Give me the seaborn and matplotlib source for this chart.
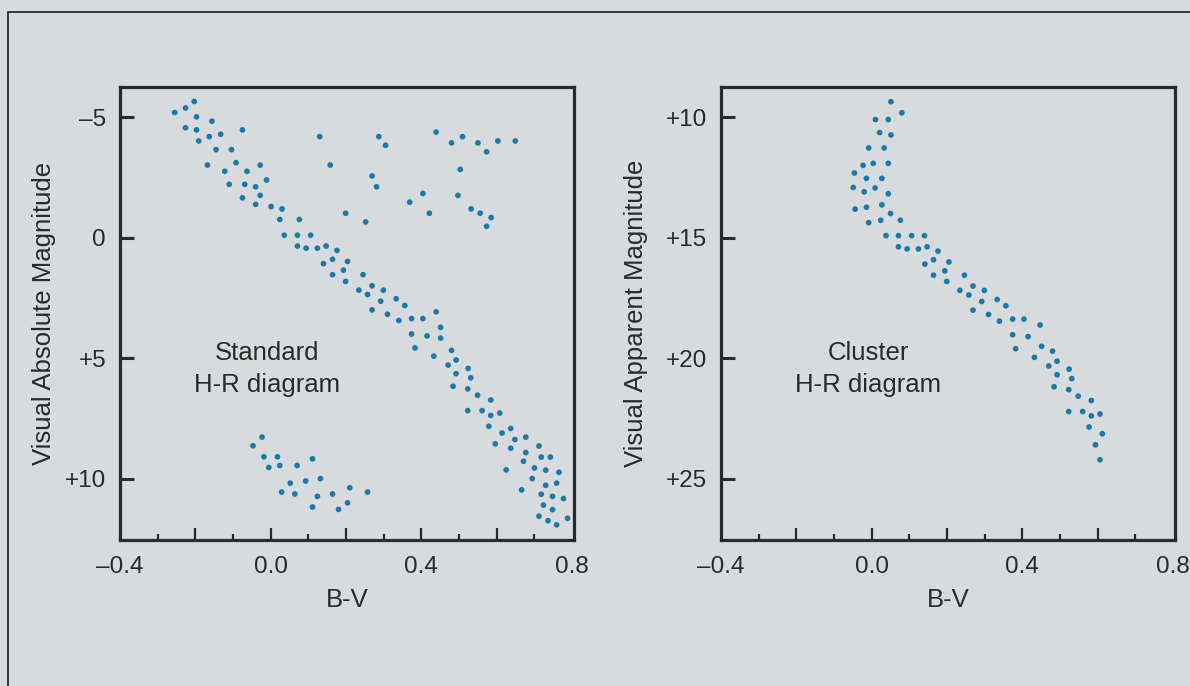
import numpy as np
import pandas as pd
import seaborn as sns
import matplotlib.pyplot as plt
from matplotlib.lines import Line2D
from matplotlib.ticker import FixedLocator

# ---- Standard H-R diagram (B-V, absolute magnitude) ----
ms_bv = [-0.255, -0.226, -0.203, -0.197, -0.156, -0.226, -0.197, -0.075, -0.163, -0.133,
         -0.191, -0.145, -0.104, -0.168, -0.092, -0.028, -0.122, -0.063, -0.011, -0.110,
         -0.069, -0.040, -0.075, -0.028, -0.040, 0.001, 0.030, 0.024, 0.076, 0.036,
         0.071, 0.106, 0.071, 0.094, 0.124, 0.147, 0.176, 0.140, 0.164, 0.204,
         0.164, 0.193, 0.245, 0.199, 0.234, 0.257, 0.269, 0.299, 0.292, 0.333,
         0.356, 0.269, 0.310, 0.340, 0.374, 0.404, 0.439, 0.451, 0.374, 0.415,
         0.451, 0.383, 0.433, 0.480, 0.492, 0.471, 0.524, 0.492, 0.531, 0.484,
         0.523, 0.549, 0.584, 0.523, 0.561, 0.584, 0.608, 0.579, 0.614, 0.637,
         0.648, 0.596, 0.637, 0.677, 0.677, 0.712, 0.718, 0.742, 0.671, 0.700,
         0.730, 0.765, 0.625, 0.694, 0.730, 0.759, 0.666, 0.718, 0.748, 0.777,
         0.724, 0.748, 0.712, 0.736, 0.759, 0.788]
ms_mv = [-5.19, -5.38, -5.65, -5.01, -4.83, -4.56, -4.47, -4.47, -4.19, -4.29,
         -4.01, -3.65, -3.65, -3.01, -3.11, -3.01, -2.75, -2.75, -2.39, -2.21,
         -2.21, -2.11, -1.65, -1.75, -1.38, -1.29, -1.19, -0.75, -0.75, -0.10,
         -0.10, -0.10, 0.35, 0.44, 0.44, 0.35, 0.53, 1.08, 0.90, 0.99,
         1.54, 1.35, 1.54, 1.82, 2.18, 2.36, 2.00, 2.18, 2.64, 2.54,
         2.82, 3.00, 3.18, 3.44, 3.36, 3.36, 3.08, 3.72, 4.00, 4.08,
         4.17, 4.58, 4.92, 4.68, 5.08, 5.29, 5.43, 5.65, 5.82, 6.17,
         6.28, 6.54, 6.74, 7.18, 7.18, 7.38, 7.28, 7.83, 8.11, 7.92,
         8.38, 8.56, 8.74, 8.28, 8.92, 8.65, 9.11, 9.11, 9.28, 9.56,
         9.65, 9.74, 9.64, 10.00, 10.28, 10.19, 10.47, 10.65, 10.74, 10.83,
         11.10, 11.29, 11.56, 11.75, 11.92, 11.65]

giant_bv = [0.130, 0.158, 0.199, 0.252, 0.287, 0.305, 0.269, 0.281, 0.369, 0.404,
            0.421, 0.439, 0.480, 0.509, 0.503, 0.550, 0.573, 0.603, 0.649, 0.497,
            0.532, 0.556, 0.585, 0.573]
giant_mv = [-4.19, -3.01, -1.01, -0.65, -4.19, -3.83, -2.56, -2.11, -1.47, -1.83,
            -1.01, -4.38, -3.93, -4.19, -2.83, -3.93, -3.56, -4.01, -4.01, -1.75,
            -1.19, -1.01, -0.83, -0.47]

wd_bv = [-0.047, -0.023, -0.018, 0.018, -0.005, 0.024, 0.070, 0.111, 0.052, 0.093,
         0.132, 0.029, 0.064, 0.124, 0.164, 0.210, 0.111, 0.180, 0.204, 0.257]
wd_mv = [8.64, 8.28, 9.10, 9.10, 9.54, 9.46, 9.46, 9.18, 10.19, 10.10,
         10.00, 10.56, 10.64, 10.74, 10.64, 10.38, 11.18, 11.28, 11.01, 10.56]

# ---- Cluster H-R diagram (B-V, apparent magnitude) ----
cl_bv = [0.051, 0.080, 0.010, 0.044, 0.021, 0.051, -0.008, 0.033, -0.023, 0.004,
         0.044, -0.046, -0.014, 0.027, -0.049, -0.020, 0.009, 0.044, -0.044, -0.014,
         0.027, -0.008, 0.024, 0.050, 0.076, 0.038, 0.071, 0.106, 0.140, 0.071,
         0.094, 0.124, 0.147, 0.176, 0.141, 0.164, 0.205, 0.164, 0.194, 0.246,
         0.199, 0.234, 0.258, 0.269, 0.299, 0.269, 0.292, 0.333, 0.356, 0.310,
         0.339, 0.374, 0.404, 0.447, 0.374, 0.415, 0.382, 0.451, 0.432, 0.480,
         0.470, 0.492, 0.492, 0.524, 0.531, 0.484, 0.523, 0.548, 0.583, 0.523,
         0.560, 0.583, 0.606, 0.577, 0.612, 0.594, 0.606]
cl_mv = [9.36, 9.82, 10.10, 10.10, 10.64, 10.74, 11.28, 11.28, 12.00, 11.92,
         11.92, 12.32, 12.54, 12.54, 12.92, 13.10, 12.94, 13.18, 13.82, 13.74,
         13.64, 14.38, 14.28, 14.00, 14.28, 14.92, 14.92, 14.92, 14.92, 15.38,
         15.47, 15.47, 15.38, 15.56, 16.10, 15.92, 16.01, 16.56, 16.38, 16.56,
         16.82, 17.19, 17.38, 17.01, 17.19, 18.01, 17.65, 17.57, 17.83, 18.19,
         18.47, 18.38, 18.38, 18.63, 19.03, 19.11, 19.61, 19.51, 19.97, 19.71,
         20.33, 20.13, 20.69, 20.46, 20.85, 21.19, 21.31, 21.58, 21.76, 22.22,
         22.22, 22.40, 22.32, 22.86, 23.14, 23.60, 24.22]

std_ticks = [-5, 0, 5, 10]
std_ticklabels = ["\u20135", "0", "+5", "+10"]
cl_ticks = [10, 15, 20, 25]
cl_ticklabels = ["+10", "+15", "+20", "+25"]
bv_ticks = [-0.4, 0.0, 0.4, 0.8]
bv_ticklabels = ["\u20130.4", "0.0", "0.4", "0.8"]

std_df = pd.DataFrame({"bv": ms_bv + giant_bv + wd_bv, "mv": ms_mv + giant_mv + wd_mv})
cl_df = pd.DataFrame({"bv": cl_bv, "mv": cl_mv})

sns.set_theme(style="white")
plt.rcParams["font.family"] = ["Liberation Sans", "DejaVu Sans"]

page = "#d8dbdd"
ink = "#2a2a2a"
dot = "#1b7aa9"

fig = plt.figure(figsize=(11.9, 6.86), dpi=100, facecolor=page)

def panel(rect, df, ylim, yticks, yticklabels, ylabel, label_x, note, note_y):
    ax = fig.add_axes(rect)
    ax.set_facecolor(page)
    sns.scatterplot(data=df, x="bv", y="mv", ax=ax, color=dot, s=17,
                    edgecolor="none", linewidth=0)
    ax.set_xlim(-0.4, 0.805)
    ax.set_ylim(*ylim)
    # long ticks every 0.2, short ticks between, labels only every 0.4
    ax.xaxis.set_major_locator(FixedLocator([-0.2, 0.0, 0.2, 0.4, 0.6]))
    ax.xaxis.set_minor_locator(FixedLocator([-0.3, -0.1, 0.1, 0.3, 0.5, 0.7]))
    ax.set_xticklabels([])
    ax.set_yticks(yticks)
    ax.set_yticklabels(yticklabels)
    ax.tick_params(axis="y", which="major", direction="in", length=10, width=2.2,
                   color=ink, labelsize=17.5, labelcolor=ink, pad=10, left=True)
    ax.tick_params(axis="x", which="major", direction="in", length=8.5, width=1.6,
                   color=ink, bottom=True)
    ax.tick_params(axis="x", which="minor", direction="in", length=4.5, width=1.6,
                   color=ink, bottom=True)
    for v, t in zip(bv_ticks, bv_ticklabels):
        ax.text(v, -0.035, t, transform=ax.get_xaxis_transform(), ha="center", va="top",
                fontsize=17.5, color=ink)
    for sp in ax.spines.values():
        sp.set_color(ink)
        sp.set_linewidth(2.3)
    ax.set_xlabel("B-V", fontsize=18.5, color=ink)
    ax.xaxis.set_label_coords(0.5, -0.105)
    ax.set_ylabel(ylabel, fontsize=18.5, color=ink)
    ax.yaxis.set_label_coords(label_x, 0.5)
    ax.text(-0.01, note_y, note, ha="center", va="center", fontsize=18.5,
            color=ink, linespacing=1.45)
    return ax

panel([120 / 1190, 1 - 540 / 686, 454 / 1190, 453 / 686], std_df, (12.55, -6.25),
      std_ticks, std_ticklabels, "Visual Absolute Magnitude", -0.14,
      "Standard\nH-R diagram", 5.45)
panel([721 / 1190, 1 - 540 / 686, 454 / 1190, 453 / 686], cl_df, (27.55, 8.75),
      cl_ticks, cl_ticklabels, "Visual Apparent Magnitude", -0.16,
      "Cluster\nH-R diagram", 20.45)

# page frame of the scanned figure
fig.add_artist(Line2D([8 / 1190, 8 / 1190], [0, 1 - 12 / 686], transform=fig.transFigure,
                      color="#3a3a3a", lw=1.4))
fig.add_artist(Line2D([8 / 1190, 1], [1 - 12 / 686, 1 - 12 / 686], transform=fig.transFigure,
                      color="#3a3a3a", lw=1.4))

fig.savefig("out.png", dpi=100, facecolor=page)
